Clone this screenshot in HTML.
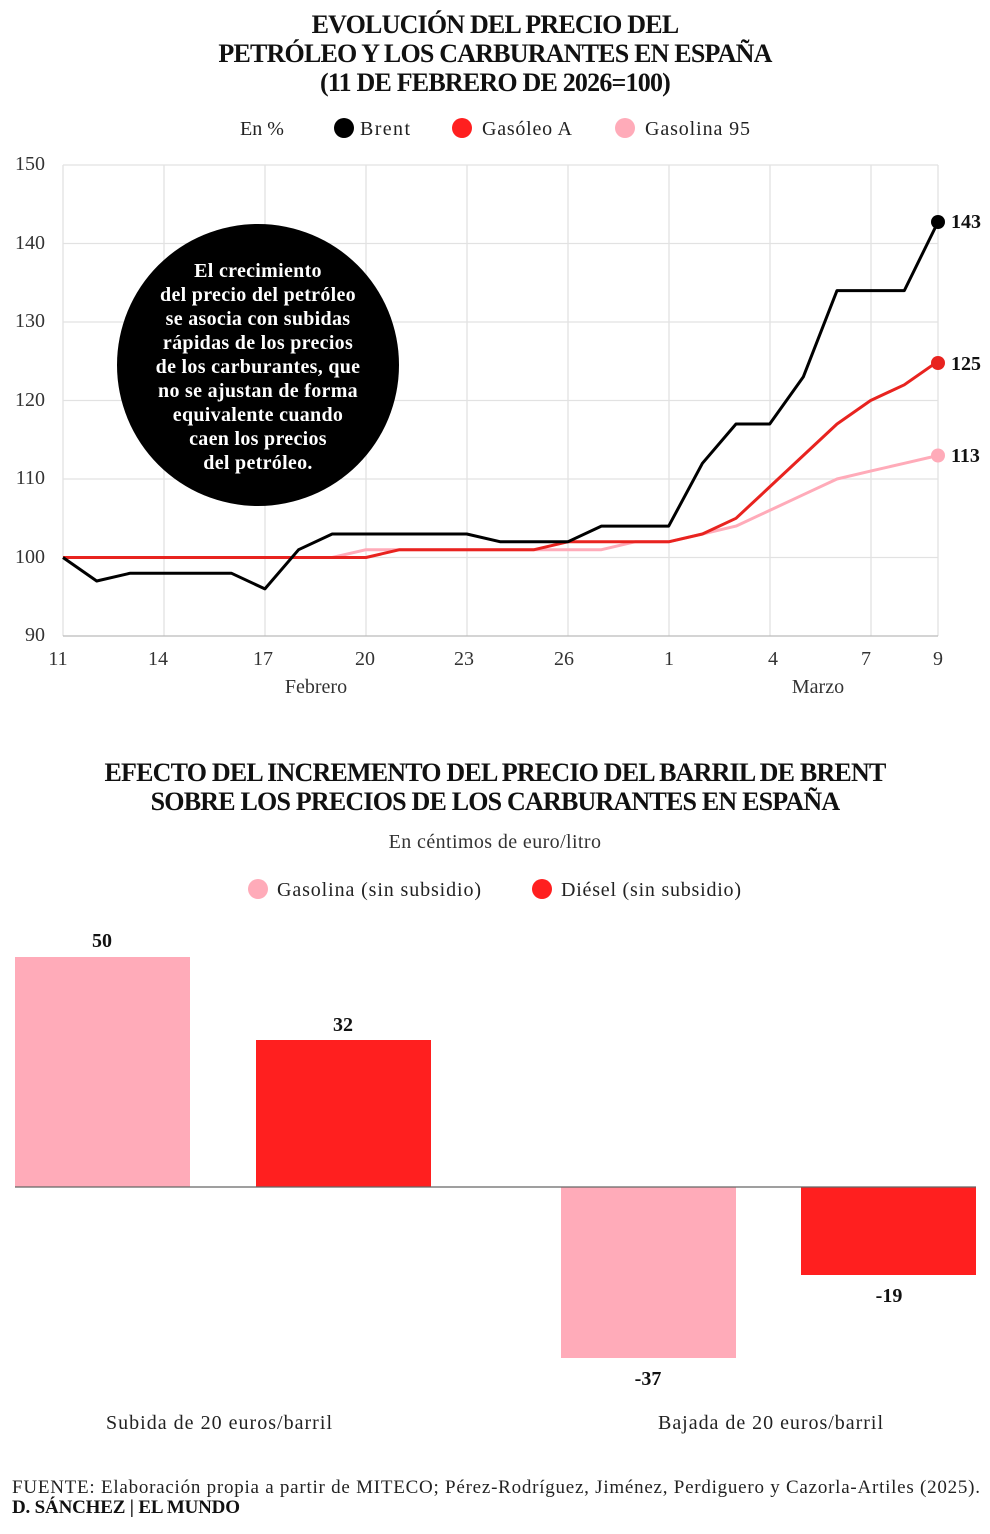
<!DOCTYPE html>
<html><head><meta charset="utf-8"><style>
html,body{margin:0;padding:0;background:#fff;}
svg{display:block;font-family:"Liberation Serif",serif;}
</style></head><body>
<svg width="990" height="1534" viewBox="0 0 990 1534" xmlns="http://www.w3.org/2000/svg">
<g font-weight="bold" font-size="26" text-anchor="middle" fill="#111" letter-spacing="-0.8">
<text x="495" y="33">EVOLUCIÓN DEL PRECIO DEL</text>
<text x="495" y="62">PETRÓLEO Y LOS CARBURANTES EN ESPAÑA</text>
<text x="495" y="91">(11 DE FEBRERO DE 2026=100)</text>
</g>
<g font-size="20" fill="#222">
<text x="240" y="135">En %</text>
<circle cx="344" cy="128" r="10" fill="#000"/><text x="360" y="135" textLength="50">Brent</text>
<circle cx="462" cy="128" r="10" fill="#ff1f1f"/><text x="482" y="135" textLength="90">Gasóleo A</text>
<circle cx="625" cy="128" r="10" fill="#ffabb9"/><text x="645" y="135" textLength="105">Gasolina 95</text>
</g>
<g stroke="#e2e2e2" stroke-width="1.3">
<line x1="63" y1="165" x2="938" y2="165"/><line x1="63" y1="243.5" x2="938" y2="243.5"/>
<line x1="63" y1="322" x2="938" y2="322"/><line x1="63" y1="400.5" x2="938" y2="400.5"/>
<line x1="63" y1="479" x2="938" y2="479"/><line x1="63" y1="557.5" x2="938" y2="557.5"/>
<line x1="63" y1="165" x2="63" y2="636"/><line x1="164" y1="165" x2="164" y2="636"/>
<line x1="265" y1="165" x2="265" y2="636"/><line x1="366" y1="165" x2="366" y2="636"/>
<line x1="467" y1="165" x2="467" y2="636"/><line x1="568" y1="165" x2="568" y2="636"/>
<line x1="669" y1="165" x2="669" y2="636"/><line x1="770" y1="165" x2="770" y2="636"/>
<line x1="871" y1="165" x2="871" y2="636"/><line x1="938" y1="165" x2="938" y2="636"/>
</g>
<line x1="63" y1="636" x2="938" y2="636" stroke="#bbb" stroke-width="1.3"/>
<g font-size="20" fill="#333" text-anchor="end">
<text x="45" y="170">150</text><text x="45" y="249">140</text><text x="45" y="327">130</text>
<text x="45" y="406">120</text><text x="45" y="484">110</text><text x="45" y="563">100</text><text x="45" y="641">90</text>
</g>
<g font-size="20" fill="#333" text-anchor="middle">
<text x="58" y="665">11</text><text x="158" y="665">14</text><text x="263" y="665">17</text>
<text x="365" y="665">20</text><text x="464" y="665">23</text><text x="564" y="665">26</text>
<text x="669" y="665">1</text><text x="773" y="665">4</text><text x="866" y="665">7</text><text x="938" y="665">9</text>
<text x="316" y="693">Febrero</text><text x="818" y="693">Marzo</text>
</g>
<g fill="none" stroke-width="3" stroke-linejoin="round">
<polyline stroke="#ffabb9" points="63,557.5 332.2,557.5 366,549.7 601.4,549.7 635,541.8 668.7,541.8 702.4,534 736,526.1 769.7,510.4 803.3,494.7 837,479 870.6,471.1 904.3,463.3 938,455.5"/>
<polyline stroke="#e8231f" points="63,557.5 366,557.5 399.5,549.7 534.1,549.7 567.8,541.8 668.7,541.8 702.4,534 736,518.3 769.7,486.9 803.3,455.5 837,424 870.6,400.5 904.3,384.8 938,361.3"/>
<polyline stroke="#000" points="63,557.5 96.7,581 130.3,573.2 231.3,573.2 264.9,588.9 298.6,549.7 332.2,534 466.8,534 500.5,541.8 567.8,541.8 601.4,526.1 668.7,526.1 702.4,463.3 736,424 769.7,424 803.3,376.9 837,290.6 904.3,290.6 938,222"/>
</g>
<circle cx="938" cy="222" r="7" fill="#000"/>
<circle cx="938" cy="363" r="7" fill="#e8231f"/>
<circle cx="938" cy="455.5" r="7" fill="#ffabb9"/>
<g font-size="20" font-weight="bold" fill="#111">
<text x="951" y="228">143</text><text x="951" y="370">125</text><text x="951" y="462">113</text>
</g>
<circle cx="258" cy="365" r="141" fill="#000"/>
<g font-size="20" font-weight="bold" fill="#fff" text-anchor="middle" letter-spacing="0.3">
<text x="258" y="277">El crecimiento</text>
<text x="258" y="301">del precio del petróleo</text>
<text x="258" y="325">se asocia con subidas</text>
<text x="258" y="349">rápidas de los precios</text>
<text x="258" y="373">de los carburantes, que</text>
<text x="258" y="397">no se ajustan de forma</text>
<text x="258" y="421">equivalente cuando</text>
<text x="258" y="445">caen los precios</text>
<text x="258" y="469">del petróleo.</text>
</g>
<g font-weight="bold" font-size="26" text-anchor="middle" fill="#111" letter-spacing="-0.8">
<text x="495" y="781">EFECTO DEL INCREMENTO DEL PRECIO DEL BARRIL DE BRENT</text>
<text x="495" y="810">SOBRE LOS PRECIOS DE LOS CARBURANTES EN ESPAÑA</text>
</g>
<text x="495" y="848" font-size="20" fill="#333" text-anchor="middle" letter-spacing="0.4">En céntimos de euro/litro</text>
<g font-size="20" fill="#222">
<circle cx="258" cy="889" r="10" fill="#ffabb9"/><text x="277" y="896" textLength="204">Gasolina (sin subsidio)</text>
<circle cx="542" cy="889" r="10" fill="#ff1f1f"/><text x="561" y="896" textLength="180">Diésel (sin subsidio)</text>
</g>
<rect x="15" y="957" width="175" height="230" fill="#ffabb9"/>
<rect x="256" y="1040" width="175" height="147" fill="#ff1f1f"/>
<rect x="561" y="1187" width="175" height="171" fill="#ffabb9"/>
<rect x="801" y="1187" width="175" height="88" fill="#ff1f1f"/>
<line x1="15" y1="1187" x2="976" y2="1187" stroke="#666" stroke-width="1.3"/>
<g font-size="20" font-weight="bold" fill="#111" text-anchor="middle">
<text x="102" y="947">50</text><text x="343" y="1031">32</text>
<text x="648" y="1385">-37</text><text x="889" y="1302">-19</text>
</g>
<g font-size="20" fill="#222">
<text x="106" y="1429" textLength="226">Subida de 20 euros/barril</text>
<text x="658" y="1429" textLength="225">Bajada de 20 euros/barril</text>
</g>
<text x="12" y="1493" font-size="19" fill="#222" textLength="968">FUENTE: Elaboración propia a partir de MITECO; Pérez-Rodríguez, Jiménez, Perdiguero y Cazorla-Artiles (2025).</text>
<text x="12" y="1513" font-size="19" font-weight="bold" fill="#111" textLength="228">D. SÁNCHEZ | EL MUNDO</text>
</svg>
</body></html>
